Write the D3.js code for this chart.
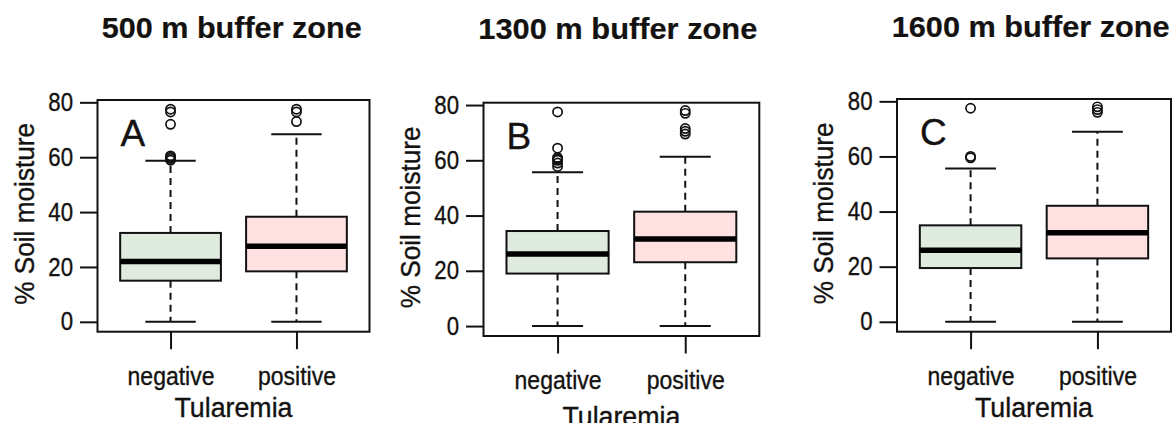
<!DOCTYPE html>
<html><head><meta charset="utf-8">
<script src="https://cdn.jsdelivr.net/npm/d3@7"></script>
<style>body{margin:0;background:#fff}svg{display:block}text{font-family:"Liberation Sans",Arial,sans-serif;fill:#141210;stroke:#141210;stroke-width:0.35px}</style>
</head><body><svg id="c" width="1173" height="423"></svg>
<script>
// ---- data ----
const categories = ["negative", "positive"];
const yTicks = [0, 20, 40, 60, 80];
const panelTitles = ["500 m buffer zone", "1300 m buffer zone", "1600 m buffer zone"];
const panelLetters = ["A", "B", "C"];
const xLabel = "Tularemia";
const yLabel = "% Soil moisture";
// five-number summaries [min, q1, median, q3, max] per category
const stats500  = [[0, 15.0, 22.0, 32.4, 58.7], [0, 18.4, 27.5, 38.3, 68.4]];
const stats1300 = [[0, 19.0, 26.1, 34.4, 55.7], [0, 23.1, 31.5, 41.4, 61.3]];
const stats1600 = [[0, 19.5, 26.0, 35.0, 55.6], [0, 23.0, 32.3, 42.1, 69.0]];
const outliers500  = [[77.5, 76.5, 72.0, 60.5, 60.0, 59.5, 58.9], [77.5, 76.5, 73.0]];
const outliers1300 = [[77.5, 64.4, 61.0, 60.5, 60.0, 59.0, 57.8], [78.0, 77.0, 71.5, 70.5, 69.5]];
const outliers1600 = [[77.5, 60.0, 59.5], [78.0, 77.0, 76.0]];
const fills = ["#DEEBDE", "#FFE1E1"];

// ---- layout ----
const panels = [
  {stats: stats500,  out: outliers500,  box: [97.5, 369.5, 100, 331.7], title: [101.7, 38.3, 260], xt: 85.5},
  {stats: stats1300, out: outliers1300, box: [483.5, 759.3, 102.7, 336], title: [478.3, 39.3, 279], xt: 90},
  {stats: stats1600, out: outliers1600, box: [897, 1171, 99, 331.7], title: [891.7, 36.7, 278], xt: 85.5}
];
const svg = d3.select("#c");
function squeeze(sel, f){ sel.each(function(){ const w=this.getComputedTextLength(); d3.select(this).attr("textLength", w*f).attr("lengthAdjust","spacingAndGlyphs"); }); }

panels.forEach((p, i) => {
  const [L, R, T, B] = p.box;
  const g = svg.append("g");
  const y = d3.scaleLinear().domain([-3.6, 80.85]).range([B, T]);
  const x = d3.scalePoint().domain(categories).range([L, R]).padding(0.58);
  const step = x.step();
  const bw = 0.8 * step, cw = 0.4 * step;

  // title
  svg.append("text").attr("x", p.title[0]).attr("y", p.title[1])
    .attr("font-size", 29).attr("font-weight", "bold").style("stroke-width", "0.2px")
    .attr("textLength", p.title[2]).attr("lengthAdjust", "spacingAndGlyphs")
    .text(panelTitles[i]);

  // y axis
  const ya = g.append("g").attr("transform", `translate(${L},0)`)
    .call(d3.axisLeft(y).tickValues(yTicks).tickSize(17.5).tickPadding(7).tickFormat(d3.format("d")));
  ya.select(".domain").remove();
  ya.selectAll(".tick line").attr("stroke", "#111").attr("stroke-width", 2);
  ya.selectAll(".tick text").attr("font-size", 25.5).attr("fill", "#141210").style("font-family", '"Liberation Sans",Arial,sans-serif');
  squeeze(ya.selectAll(".tick text"), 0.87);

  // x axis
  const xa = g.append("g").attr("transform", `translate(0,${B})`)
    .call(d3.axisBottom(x).tickSize(17.5).tickPadding(0));
  xa.select(".domain").remove();
  xa.selectAll(".tick line").attr("stroke", "#111").attr("stroke-width", 2);
  xa.selectAll(".tick text").attr("font-size", 26).attr("fill", "#141210").attr("dy", 0).attr("y", 53)
    .style("font-family", '"Liberation Sans",Arial,sans-serif');
  squeeze(xa.selectAll(".tick text"), 0.885);

  // axis titles
  g.append("text").attr("x", (L + R) / 2).attr("y", B + p.xt).attr("text-anchor", "middle")
    .attr("font-size", 27).attr("textLength", 118).attr("lengthAdjust", "spacingAndGlyphs").text(xLabel);
  g.append("text").attr("transform", `translate(${L - 64},${(T + B) / 2 - 2}) rotate(-90)`)
    .attr("text-anchor", "middle").attr("font-size", 27.5)
    .attr("textLength", 182).attr("lengthAdjust", "spacingAndGlyphs").text(yLabel);

  // boxes
  categories.forEach((c, k) => {
    const [mn, q1, md, q3, mx] = p.stats[k];
    const cx = x(c);
    g.append("line").attr("x1", cx).attr("x2", cx).attr("y1", y(q3)).attr("y2", y(mx))
      .attr("stroke", "#111").attr("stroke-width", 2).attr("stroke-dasharray", "7,5");
    g.append("line").attr("x1", cx).attr("x2", cx).attr("y1", y(q1)).attr("y2", y(mn))
      .attr("stroke", "#111").attr("stroke-width", 2).attr("stroke-dasharray", "7,5");
    [mn, mx].forEach(v => g.append("line").attr("x1", cx - cw / 2).attr("x2", cx + cw / 2)
      .attr("y1", y(v)).attr("y2", y(v)).attr("stroke", "#111").attr("stroke-width", 2));
    g.append("rect").attr("x", cx - bw / 2).attr("y", y(q3)).attr("width", bw).attr("height", y(q1) - y(q3))
      .attr("fill", fills[k]).attr("stroke", "#111").attr("stroke-width", 2);
    g.append("line").attr("x1", cx - bw / 2).attr("x2", cx + bw / 2).attr("y1", y(md)).attr("y2", y(md))
      .attr("stroke", "#000").attr("stroke-width", 5.5);
    g.selectAll(null).data(p.out[k]).enter().append("circle")
      .attr("cx", cx).attr("cy", d => y(d)).attr("r", 4.6)
      .attr("fill", "none").attr("stroke", "#111").attr("stroke-width", 1.7);
  });

  // frame
  g.append("rect").attr("x", L).attr("y", T).attr("width", R - L).attr("height", B - T)
    .attr("fill", "none").attr("stroke", "#111").attr("stroke-width", 2);

  // panel letter
  g.append("text").attr("x", L + 23).attr("y", T + 46).attr("font-size", 37).text(panelLetters[i]);
});
</script></body></html>
